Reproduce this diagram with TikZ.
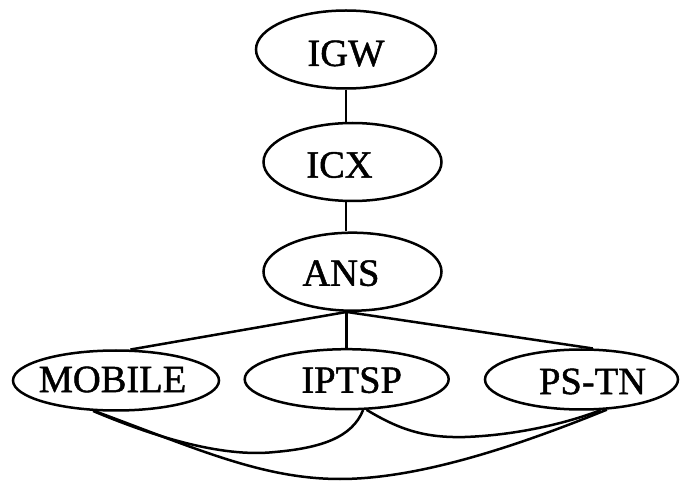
\documentclass[tikz,border=0pt]{standalone}
\usepackage{fontspec}
\setmainfont{Liberation Serif}[FakeBold=1.2]
\usetikzlibrary{shapes.geometric}
\begin{document}
\begin{tikzpicture}[x=1pt,y=-1pt,
  ell/.style={draw, ellipse, line width=2.5pt, inner sep=0pt},
  lbl/.style={font=\fontsize{38.5}{40}\selectfont, inner sep=0pt},
  conn/.style={line width=2.5pt},
]
\useasboundingbox (0,0) rectangle (681,481);
\node[ell, minimum width=180pt, minimum height=78pt, label={[lbl,yshift=-4pt]center:IGW}] (igw) at (346,49.5) {};
\node[ell, minimum width=178pt, minimum height=78pt, label={[lbl,xshift=-13pt,yshift=-3pt]center:ICX}] (icx) at (352.5,162) {};
\node[ell, minimum width=178pt, minimum height=78pt, label={[lbl,xshift=-11.5pt,yshift=-1.5pt]center:ANS}] (ans) at (352.5,271.7) {};
\node[ell, minimum width=206pt, minimum height=60pt, label={[lbl,xshift=-3.5pt,yshift=1pt]center:MOBILE}] (mobile) at (116,380.5) {};
\node[ell, minimum width=204pt, minimum height=60pt, label={[lbl,xshift=5pt,yshift=-1pt]center:IPTSP}] (iptsp) at (346.7,379.2) {};
\node[ell, minimum width=193pt, minimum height=60pt, label={[lbl,xshift=11pt,yshift=-2pt]center:PS-TN}] (pstn) at (581.5,379.5) {};
\coordinate (hub) at (ans.south -| iptsp.north);
\draw[conn] (igw.south) -- (igw.south |- icx.north);
\draw[conn] (icx.south -| igw.south) -- (igw.south |- ans.north);
\draw[conn] (hub) -- (iptsp.north);
\draw[conn] (hub) -- (mobile.65);
\draw[conn] (hub) -- (pstn.70);
\draw[conn] (mobile.-127) .. controls (150,435) and (220,458) .. (275,452)
  .. controls (320,448) and (352,438) .. (iptsp.-62);
\draw[conn] (mobile.-125) .. controls (195,448) and (262,479) .. (340,479)
  .. controls (420,479) and (520,445) .. (pstn.-50);
\draw[conn] (iptsp.-57) .. controls (400,430) and (425,438) .. (465,437)
  .. controls (520,435) and (570,422) .. (pstn.-58);
\end{tikzpicture}
\end{document}
